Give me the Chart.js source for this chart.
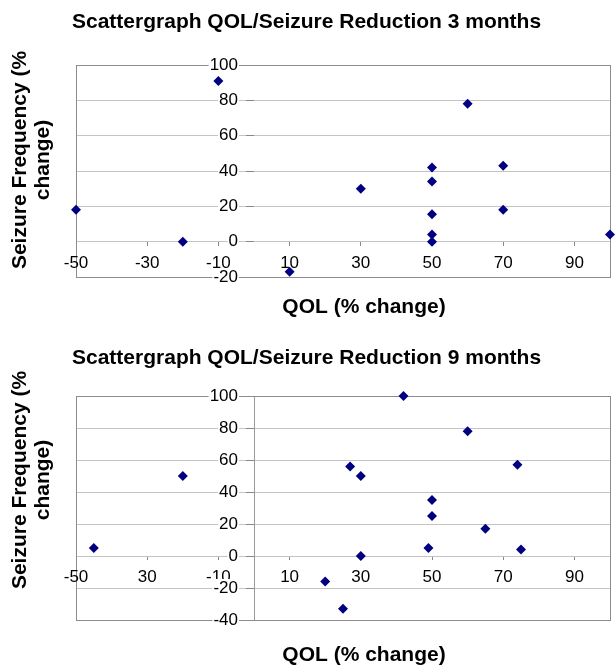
<!DOCTYPE html>
<html>
<head>
<meta charset="utf-8">
<script src="https://cdn.jsdelivr.net/npm/chart.js@4.4.1/dist/chart.umd.min.js"></script>
<style>
    html, body { margin: 0; padding: 0; background: #fff; }
    .panel { position: absolute; left: 0; width: 615px; height: 333px; }
    #panel-3 { top: 0; }
    #panel-9 { top: 333px; }
</style>
</head>
<body>
<div class="panel" id="panel-3"><canvas id="chart-3"></canvas></div>
<div class="panel" id="panel-9"><canvas id="chart-9"></canvas></div>
<script>
// 3 months
const qol3 = [-50, -20, -10, 10, 30, 50, 50, 50, 50, 50, 60, 70, 70, 100];
const seizure3 = [18, 0, 91, -17, 30, 42, 34, 15.5, 4, 0, 78, 43, 18, 4];

// 9 months
const qol9 = [-45, -20, 20, 25, 27, 30, 30, 42, 49, 50, 50, 60, 65, 74, 75];
const seizure9 = [5, 50, -16, -33, 56, 50, 0, 100, 5, 35, 25, 78, 17, 57, 4];

const xTickValues = [-50, -30, -10, 10, 30, 50, 70, 90];
const xTickLabels3 = ['-50', '-30', '-10', '10', '30', '50', '70', '90'];
const xTickLabels9 = ['-50', '30', '-10', '10', '30', '50', '70', '90'];
const yTickValues3 = [-20, 0, 20, 40, 60, 80, 100];
const yTickValues9 = [-40, -20, 0, 20, 40, 60, 80, 100];

const FONT = "'Liberation Sans', Arial, sans-serif";
const POINT_COLOR = '#000080';
const Y_TICK_LENGTH = 8;
const Y_TICK_PADDING = 8;

// frame round the plot, y labels left of the crossing axis, titles
const frameAndText = {
    id: 'frameAndText',
    beforeDatasetsDraw(chart) {
        const { ctx, chartArea } = chart;
        ctx.save();
        ctx.strokeStyle = '#8c8c8c';
        ctx.lineWidth = 1;
        ctx.strokeRect(Math.round(chartArea.left) + 0.5, Math.round(chartArea.top) + 0.5,
            Math.round(chartArea.right - chartArea.left), Math.round(chartArea.bottom - chartArea.top));
        ctx.restore();
    },
    afterDraw(chart, args, opts) {
        const ctx = chart.ctx;
        const xScale = chart.scales.x;
        const yScale = chart.scales.y;
        ctx.save();

        ctx.font = `17px ${FONT}`;
        ctx.textAlign = 'right';
        ctx.textBaseline = 'middle';
        const labelRight = xScale.getPixelForValue(0) - Y_TICK_LENGTH - Y_TICK_PADDING;
        yScale.ticks.forEach((tick) => {
            const y = yScale.getPixelForValue(tick.value);
            const text = String(tick.value);
            const w = ctx.measureText(text).width;
            ctx.fillStyle = '#fff';
            ctx.fillRect(labelRight - w - 1, y - 9, w + 2, 18);
            ctx.fillStyle = '#000';
            ctx.fillText(text, labelRight, y);
        });

        ctx.fillStyle = '#000';
        ctx.font = `bold 21px ${FONT}`;
        ctx.textAlign = 'left';
        ctx.fillText(opts.title, 72, opts.titleY);

        ctx.textAlign = 'center';
        ctx.fillText('QOL (% change)', 364, opts.xTitleY);

        ctx.translate(0, opts.yTitleY);
        ctx.rotate(-Math.PI / 2);
        ctx.fillText('Seizure Frequency (%', 0, 20);
        ctx.fillText('change)', 0, 43);
        ctx.restore();
    }
};

function buildScales(xLabels, yTicks, showYAxisLine) {
    return {
        x: {
            type: 'linear',
            min: -50,
            max: 100,
            position: { y: 0 },
            afterBuildTicks: (axis) => {
                axis.ticks = xTickValues.map((value) => ({ value }));
            },
            grid: {
                drawOnChartArea: false,
                drawTicks: true,
                tickLength: 4,
                tickColor: '#888888'
            },
            border: { display: false },
            ticks: {
                color: '#000',
                font: { family: FONT, size: 17 },
                padding: 7,
                autoSkip: false,
                maxRotation: 0,
                z: 1,
                callback: (value, index) => xLabels[index]
            }
        },
        y: {
            type: 'linear',
            min: yTicks[0],
            max: yTicks[yTicks.length - 1],
            position: { x: 0 },
            afterBuildTicks: (axis) => {
                axis.ticks = yTicks.map((value) => ({ value }));
            },
            grid: {
                color: '#c4c4c4',
                tickLength: Y_TICK_LENGTH,
                tickColor: '#888888'
            },
            border: { display: showYAxisLine, color: '#999999' },
            ticks: { display: false }
        }
    };
}

function renderScatter(canvasId, xs, ys, cfg) {
    const ctx = document.getElementById(canvasId).getContext('2d');
    return new Chart(ctx, {
        type: 'scatter',
        data: {
            datasets: [{
                data: xs.map((x, i) => ({ x, y: ys[i] })),
                pointStyle: 'rectRot',
                pointRadius: 5,
                pointBackgroundColor: POINT_COLOR,
                pointBorderColor: POINT_COLOR,
                pointBorderWidth: 0,
                clip: false
            }]
        },
        options: {
            responsive: true,
            maintainAspectRatio: false,
            animation: false,
            layout: { padding: cfg.padding },
            plugins: {
                legend: { display: false },
                tooltip: { enabled: false },
                frameAndText: {
                    title: cfg.title,
                    titleY: cfg.titleY,
                    xTitleY: cfg.xTitleY,
                    yTitleY: cfg.yTitleY
                }
            },
            scales: buildScales(cfg.xLabels, cfg.yTicks, cfg.showYAxisLine)
        },
        plugins: [frameAndText]
    });
}

renderScatter('chart-3', qol3, seizure3, {
    title: 'Scattergraph QOL/Seizure Reduction 3 months',
    titleY: 22,
    xTitleY: 307,
    yTitleY: 160,
    padding: { top: 65, bottom: 56, left: 76, right: 4 },
    xLabels: xTickLabels3,
    yTicks: yTickValues3,
    showYAxisLine: false
});

renderScatter('chart-9', qol9, seizure9, {
    title: 'Scattergraph QOL/Seizure Reduction 9 months',
    titleY: 25,
    xTitleY: 322,
    yTitleY: 147,
    padding: { top: 63, bottom: 46, left: 76, right: 4 },
    xLabels: xTickLabels9,
    yTicks: yTickValues9,
    showYAxisLine: true
});
</script>
</body>
</html>
